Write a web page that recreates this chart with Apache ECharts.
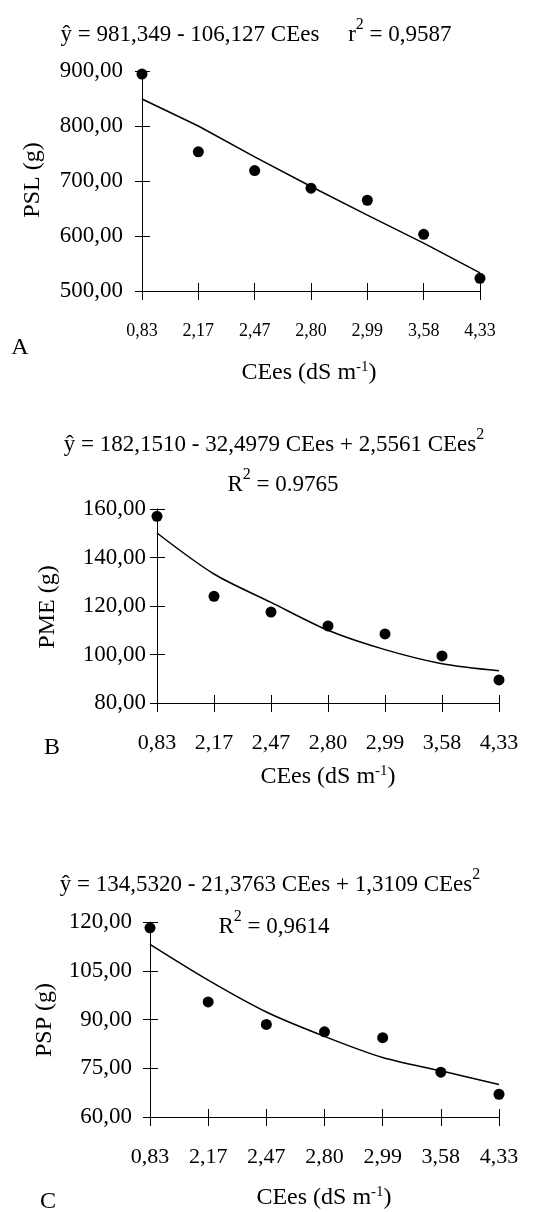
<!DOCTYPE html>
<html>
<head>
<meta charset="utf-8">
<script src="https://cdn.jsdelivr.net/npm/echarts@6/dist/echarts.min.js"></script>
<style>
  html, body { margin: 0; padding: 0; background: #fff; }
  #chart { width: 541px; height: 1212px; }
</style>
</head>
<body>
<div id="chart"></div>
<script>
// ====== Data ======
var categories = ['0,83', '2,17', '2,47', '2,80', '2,99', '3,58', '4,33'];

// A: PSL (g)
var pslPoints = [894.5, 753, 719, 687, 665, 603, 523];
var pslFit = [849, 800, 744, 690, 638, 587, 533];

// B: PME (g)
var pmePoints = [157, 124, 117.5, 111.8, 108.5, 99.4, 89.5];
var pmeFit = [150.1, 133.2, 121.5, 110, 102, 96.2, 93.3];

// C: PSP (g)
var pspPoints = [118.2, 95.4, 88.5, 86.2, 84.4, 73.8, 67];
var pspFit = [113.1, 102.1, 92.3, 84.8, 78.3, 74.2, 70];

(function() {
  var chart = echarts.init(document.getElementById('chart'), null, { renderer: 'canvas' });
  var font = 'Liberation Serif, Times New Roman, serif';
  var ink = '#000';

  function fmt(v) { return v.toFixed(2).replace('.', ','); }

  var grids = [
    { left: 142, top: 71, width: 338, height: 220 },
    { left: 157, top: 509, width: 342, height: 194 },
    { left: 150, top: 922, width: 349, height: 195 }
  ];
  var yRanges = [
    { min: 500, max: 900, interval: 100, margin: 19 },
    { min: 80, max: 160, interval: 20, margin: 11 },
    { min: 60, max: 120, interval: 15, margin: 18 }
  ];
  var xLabelSize = [18, 22, 22];
  var xLabelMargin = [31, 29, 29];

  var xAxes = [], yAxes = [];
  grids.forEach(function(g, i) {
    // main axes: line, labels, ticks pointing in
    xAxes.push({
      type: 'category', gridIndex: i, position: 'bottom', data: categories, boundaryGap: false,
      axisLine: { onZero: false, lineStyle: { color: ink, width: 1 } },
      axisTick: { inside: true, length: 8, lineStyle: { color: ink } },
      axisLabel: { color: ink, fontFamily: font, fontSize: xLabelSize[i], margin: xLabelMargin[i], interval: 0 },
      splitLine: { show: false }
    });
    // twin axes only for the outer half of the crossing ticks
    xAxes.push({
      type: 'category', gridIndex: i, position: 'bottom', data: categories, boundaryGap: false,
      axisLine: { show: false, onZero: false },
      axisTick: { inside: false, length: 9, lineStyle: { color: ink } },
      axisLabel: { show: false },
      splitLine: { show: false }
    });
    var r = yRanges[i];
    yAxes.push({
      type: 'value', gridIndex: i, position: 'left', min: r.min, max: r.max, interval: r.interval,
      axisLine: { show: true, onZero: false, lineStyle: { color: ink, width: 1 } },
      axisTick: { show: true, inside: true, length: 8, lineStyle: { color: ink } },
      axisLabel: { color: ink, fontFamily: font, fontSize: 23, margin: r.margin, formatter: fmt },
      splitLine: { show: false }
    });
    yAxes.push({
      type: 'value', gridIndex: i, position: 'left', min: r.min, max: r.max, interval: r.interval,
      axisLine: { show: false },
      axisTick: { show: true, inside: false, length: 7, lineStyle: { color: ink } },
      axisLabel: { show: false },
      splitLine: { show: false }
    });
  });

  function fitSeries(i, data, smooth) {
    return {
      type: 'line', xAxisIndex: i * 2, yAxisIndex: i * 2, data: data, smooth: smooth,
      symbol: 'none', lineStyle: { color: ink, width: 1.5 }, z: 2, silent: true
    };
  }
  function pointSeries(i, data) {
    return {
      type: 'scatter', xAxisIndex: i * 2, yAxisIndex: i * 2, data: data,
      symbol: 'circle', symbolSize: 11, itemStyle: { color: ink, opacity: 1 }, z: 3, silent: true
    };
  }

  // rich text: n/s = equations (superscript sits above the caps), m/ms = axis names
  var rich = {
    n: { fontFamily: font, fontSize: 23, lineHeight: 37, fill: ink },
    s: { fontFamily: font, fontSize: 16, lineHeight: 16, fill: ink, verticalAlign: 'top' },
    m: { fontFamily: font, fontSize: 24, lineHeight: 27, fill: ink },
    ms: { fontFamily: font, fontSize: 15, lineHeight: 15, fill: ink, verticalAlign: 'top' }
  };
  function txt(x, y, text, rot) {
    return {
      type: 'text', x: x, y: y, rotation: rot || 0, silent: true,
      style: { text: text, rich: rich, align: 'center', verticalAlign: 'middle', fill: ink,
        fontFamily: font, fontSize: 23 }
    };
  }
  var xName = '{m|CEes (dS m}{ms|-1}{m|)}';

  chart.setOption({
    animation: false,
    grid: grids,
    xAxis: xAxes,
    yAxis: yAxes,
    series: [
      fitSeries(0, pslFit, false), pointSeries(0, pslPoints),
      fitSeries(1, pmeFit, 0.3), pointSeries(1, pmePoints),
      fitSeries(2, pspFit, 0.3), pointSeries(2, pspPoints)
    ],
    graphic: [
      txt(256, 35, '{n|ŷ = 981,349 - 106,127 CEes     r}{s|2}{n| = 0,9587}'),
      txt(33, 180, '{m|PSL (g)}', Math.PI / 2),
      txt(309, 373, xName),
      txt(20, 348, '{m|A}'),

      txt(274, 445, '{n|ŷ = 182,1510 - 32,4979 CEes + 2,5561 CEes}{s|2}'),
      txt(283, 485, '{n|R}{s|2}{n| = 0.9765}'),
      txt(48, 607, '{m|PME (g)}', Math.PI / 2),
      txt(328, 777, xName),
      txt(52, 748, '{m|B}'),

      txt(270, 885, '{n|ŷ = 134,5320 - 21,3763 CEes + 1,3109 CEes}{s|2}'),
      txt(274, 927, '{n|R}{s|2}{n| = 0,9614}'),
      txt(45, 1020, '{m|PSP (g)}', Math.PI / 2),
      txt(324, 1198, xName),
      txt(48, 1202, '{m|C}')
    ]
  });

  window.addEventListener('resize', function() { chart.resize(); });
})();
</script>
</body>
</html>
